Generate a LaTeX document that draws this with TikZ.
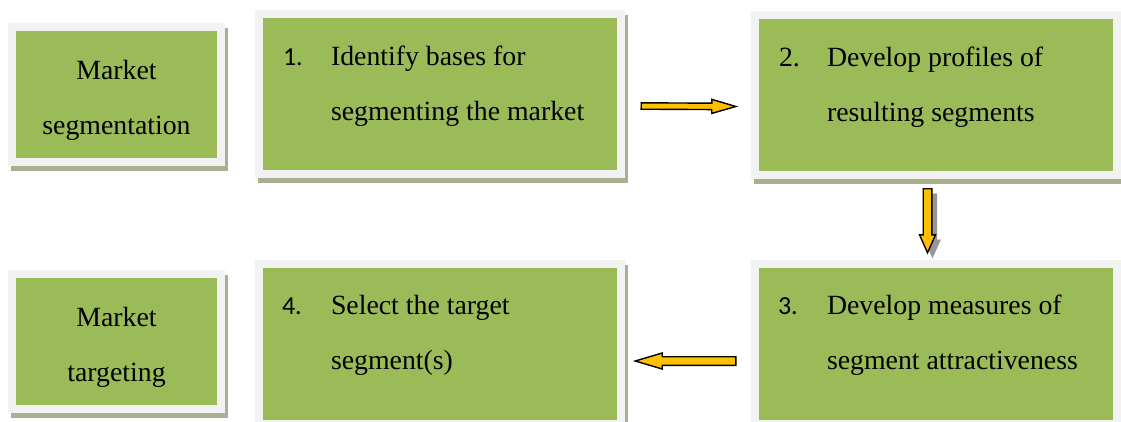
\documentclass[tikz,border=0pt]{standalone}
\usepackage{fontspec}
\setmainfont{Liberation Serif}
\newfontfamily\numfont{Carlito}
\usetikzlibrary{calc,shadows}

\definecolor{boxgreen}{HTML}{9BBB59}
\definecolor{framegray}{HTML}{F2F2F2}
\definecolor{shadowgreen}{RGB}{168,176,146}
\definecolor{arrowgold}{HTML}{FFC000}
\definecolor{arrowshade}{RGB}{150,150,150}

\tikzset{
  greenbox/.style={rectangle, inner sep=0pt, fill=boxgreen,
    general shadow={draw=shadowgreen, fill=shadowgreen, line width=16pt,
                    shadow xshift=3pt, shadow yshift=-5pt},
    preaction={draw=framegray, fill=framegray, line width=16pt}},
  % two-line texts are placed by the baseline of their second line
  bodytext/.style={font=\fontsize{27.8}{55}\selectfont, anchor=base west, align=left, inner sep=0pt},
  numtext/.style={font=\numfont\fontsize{26}{30}\selectfont, anchor=base west, inner sep=0pt},
  sidetext/.style={font=\fontsize{27.8}{55}\selectfont, anchor=base, align=center, inner sep=0pt},
  barrow/.style={draw=black, line width=1.4pt, fill=arrowgold, line join=miter},
  shadedarrow/.style={barrow, general shadow={draw=arrowshade, fill=arrowshade,
                    shadow xshift=5pt, shadow yshift=-5pt}}
}

% block arrow: #1 style, #2 tail, #3 tip, #4 shaft half width, #5 head half width, #6 head length
\newcommand\blockarrow[6]{%
  \coordinate (ah) at ($(#3)!#6!(#2)$);
  \draw[#1] ($(#2)!#4!90:(#3)$) -- ($(ah)!#4!-90:(#2)$) -- ($(ah)!#5!-90:(#2)$)
    -- (#3) -- ($(ah)!#5!90:(#2)$) -- ($(ah)!#4!90:(#2)$) -- ($(#2)!#4!-90:(#3)$) -- cycle;}

\begin{document}
\begin{tikzpicture}[x=1pt, y=-1pt]
\useasboundingbox (0,0) rectangle (1121,421);

% side labels
\node[greenbox, minimum width=201pt, minimum height=127pt] (seg) at (116.5,94.5) {};
\node[greenbox, minimum width=201pt, minimum height=127pt] (tgt) at (116.5,341.5) {};

% process steps
\node[greenbox, minimum width=354pt, minimum height=152pt] (b1) at (440,94) {};
\node[greenbox, minimum width=354pt, minimum height=152pt] (b2) at (936,94.5) {};
\node[greenbox, minimum width=354pt, minimum height=152pt] (b3) at (936,344) {};
\node[greenbox, minimum width=354pt, minimum height=152pt] (b4) at (440,344) {};

% texts
\node[sidetext] (segtext) at ($(seg.north)+(0,104)$) {Market\\segmentation};
\node[sidetext] (tgttext) at ($(tgt.north)+(0,104)$) {Market\\targeting};

\node[numtext] (n1) at ($(b1.north west)+(20,48)$) {1.};
\node[bodytext] (t1) at ($(b1.north west)+(68,103)$) {Identify bases for\\segmenting the market};
\node[numtext, font=\fontsize{27.8}{30}\selectfont] (n2) at ($(b2.north west)+(20,48)$) {2.};
\node[bodytext] (t2) at ($(b2.north west)+(68,103)$) {Develop profiles of\\resulting segments};
\node[numtext] (n3) at ($(b3.north west)+(19,47)$) {3.};
\node[bodytext] (t3) at ($(b3.north west)+(68,102)$) {Develop measures of\\segment attractiveness};
\node[numtext] (n4) at ($(b4.north west)+(19,47)$) {4.};
\node[bodytext] (t4) at ($(b4.north west)+(68,102)$) {Select the target\\segment(s)};

% connectors
\coordinate (r1) at ($(b1.east)+(24,12)$);
\coordinate (r2) at ($(b2.west)+(-23,12)$);
\blockarrow{barrow}{r1}{r2}{3.2pt}{7pt}{24pt}

\coordinate (d1) at ($(b2.south)+(-8.5,18)$);
\coordinate (d2) at ($(b3.north)+(-8.5,-15)$);
\blockarrow{shadedarrow}{d1}{d2}{4.3pt}{8pt}{18pt}

\coordinate (l1) at ($(b3.west)+(-23,17)$);
\coordinate (l2) at ($(b4.east)+(18,17)$);
\blockarrow{barrow}{l1}{l2}{4.3pt}{8pt}{27pt}
\end{tikzpicture}
\end{document}
